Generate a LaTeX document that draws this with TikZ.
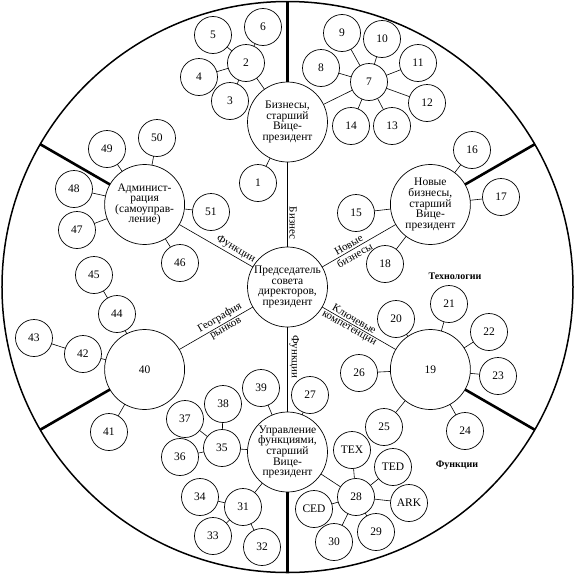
\documentclass[tikz,border=0pt]{standalone}
\usepackage{fontspec}
\setmainfont{Liberation Serif}
\usepackage{tikz}

\begin{document}
\begin{tikzpicture}[
x=1pt, y=1pt,
ring/.style={line width=1.5pt},
hub/.style={draw, circle, line width=0.7pt, minimum size=80pt, inner sep=0pt, outer sep=0pt, align=center, font=\fontsize{11.5}{10.6}\selectfont},
leaf/.style={draw, circle, line width=0.7pt, minimum size=37pt, inner sep=0pt, outer sep=0pt, font=\fontsize{11.5}{12}\selectfont},
link/.style={line width=0.6pt},
spoke/.style={line width=2.6pt},
tag/.style={font=\fontsize{11}{9}\selectfont, inner sep=1.8pt},
sector/.style={font=\bfseries\fontsize{10}{12}\selectfont}
]
\useasboundingbox (-287.5,-287) rectangle (287.5,287);
\draw[ring] (0,0) circle (285.5);
\foreach \a in {90,30,-30,-90,-150,150}
  \coordinate (rim\a) at (\a:285.5);
% hubs
\node[hub] (chair) at (0,0) {Председатель\\совета\\директоров,\\президент};
\node[hub] (biz) at (90:165) {Бизнесы,\\старший\\Вице-\\президент};
\node[hub] (newbiz) at (30:165) {Новые\\бизнесы,\\старший\\Вице-\\президент};
\node[hub] (core) at (-30:165) {19};
\node[hub] (func) at (-90:165) {Управление\\функциями,\\старший\\Вице-\\президент};
\node[hub] (geo) at (-150:165) {40};
\node[hub] (admin) at (150:165) {Админист-\\рация\\(самоуправ-\\ление)};
% sector borders
\draw[spoke] (biz.90) -- (rim90);
\draw[spoke] (newbiz.30) -- (rim30);
\draw[spoke] (core.-30) -- (rim-30);
\draw[spoke] (func.-90) -- (rim-90);
\draw[spoke] (geo.-150) -- (rim-150);
\draw[spoke] (admin.150) -- (rim150);
% business
\node[leaf] (n1) at (-29.5,104) {1};
\node[leaf] (n2) at (-41.5,224) {2};
\node[leaf] (n3) at (-57.5,186) {3};
\node[leaf] (n4) at (-88.5,210) {4};
\node[leaf] (n5) at (-74.5,252) {5};
\node[leaf] (n6) at (-24.5,260) {6};
\node[leaf] (n7) at (81.5,205) {7};
\node[leaf] (n8) at (33.5,219) {8};
\node[leaf] (n9) at (54.5,254) {9};
\node[leaf] (n10) at (94.5,248) {10};
\node[leaf] (n11) at (130.5,224) {11};
\node[leaf] (n12) at (139.5,184) {12};
\node[leaf] (n13) at (104.5,161) {13};
\node[leaf] (n14) at (63.5,161) {14};
% new business
\node[leaf] (n15) at (68.5,74) {15};
\node[leaf] (n16) at (184.5,137) {16};
\node[leaf] (n17) at (213.5,90) {17};
\node[leaf] (n18) at (97.5,23) {18};
% core competences
\node[leaf] (n20) at (108.5,-32) {20};
\node[leaf] (n21) at (161.5,-17) {21};
\node[leaf] (n22) at (201.5,-45) {22};
\node[leaf] (n23) at (210.5,-89) {23};
\node[leaf] (n24) at (177.5,-144) {24};
\node[leaf] (n25) at (96.5,-140) {25};
\node[leaf] (n26) at (71.5,-86) {26};
% functions
\node[leaf] (n27) at (22.5,-108) {27};
\node[leaf] (n28) at (68.5,-210) {28};
\node[leaf] (n29) at (88.5,-245) {29};
\node[leaf] (n30) at (46.5,-255) {30};
\node[leaf] (tex) at (64.5,-163) {TEX};
\node[leaf] (ted) at (105.5,-180) {TED};
\node[leaf] (ark) at (121.5,-216) {ARK};
\node[leaf] (ced) at (26.5,-222) {CED};
\node[leaf] (n31) at (-44.5,-220) {31};
\node[leaf] (n32) at (-25.5,-260) {32};
\node[leaf] (n33) at (-74.5,-249) {33};
\node[leaf] (n34) at (-87.5,-210) {34};
\node[leaf] (n35) at (-65.5,-161) {35};
\node[leaf] (n36) at (-107.5,-170) {36};
\node[leaf] (n37) at (-102.5,-132) {37};
\node[leaf] (n38) at (-64.5,-117) {38};
\node[leaf] (n39) at (-26.5,-101) {39};
% geography
\node[leaf] (n41) at (-178.5,-145) {41};
\node[leaf] (n42) at (-204.5,-67) {42};
\node[leaf] (n43) at (-253.5,-51) {43};
\node[leaf] (n44) at (-170.5,-27) {44};
\node[leaf] (n45) at (-193.5,12) {45};
% administration
\node[leaf] (n46) at (-107.5,24) {46};
\node[leaf] (n47) at (-210.5,57) {47};
\node[leaf] (n48) at (-213.5,98) {48};
\node[leaf] (n49) at (-180.5,138) {49};
\node[leaf] (n50) at (-130.5,149) {50};
\node[leaf] (n51) at (-76.5,75) {51};
% links from the chair
\draw[link] (biz) -- (chair) node[tag, pos=0.72, rotate=-90, anchor=south] {Бизнес};
\draw[link] (chair) -- (func) node[tag, pos=0.35, rotate=-90, anchor=south] {Функции};
\draw[link] (admin) -- (chair) node[tag, pos=0.72, sloped, above] {Функции};
\draw[link] (chair) -- (newbiz) node[tag, pos=0.4, sloped, above] {Новые} node[tag, pos=0.4, sloped, below] {бизнесы};
\draw[link] (chair) -- (core) node[tag, pos=0.4, sloped, above] {Ключевые} node[tag, pos=0.4, sloped, below] {компетенции};
\draw[link] (geo) -- (chair) node[tag, pos=0.6, sloped, above] {География} node[tag, pos=0.6, sloped, below] {рынков};
% links to the leaves
\draw[link] (biz) -- (n1) (biz) -- (n2) (biz) -- (n7);
\draw[link] (n2) -- (n3) (n2) -- (n4) (n2) -- (n5) (n2) -- (n6);
\draw[link] (n7) -- (n8) (n7) -- (n9) (n7) -- (n10) (n7) -- (n11) (n7) -- (n12) (n7) -- (n13) (n7) -- (n14);
\draw[link] (newbiz) -- (n15) (newbiz) -- (n16) (newbiz) -- (n17) (newbiz) -- (n18);
\draw[link] (core) -- (n20) (core) -- (n21) (core) -- (n22) (core) -- (n23) (core) -- (n24) (core) -- (n25) (core) -- (n26);
\draw[link] (func) -- (n27) (func) -- (n28) (func) -- (n31) (func) -- (n35) (func) -- (n39);
\draw[link] (n28) -- (tex) (n28) -- (ted) (n28) -- (ark) (n28) -- (n29) (n28) -- (n30) (n28) -- (ced);
\draw[link] (n31) -- (n32) (n31) -- (n33) (n31) -- (n34);
\draw[link] (n35) -- (n36) (n35) -- (n37) (n35) -- (n38);
\draw[link] (geo) -- (n41) (geo) -- (n42) (geo) -- (n44) (n42) -- (n43) (n44) -- (n45);
\draw[link] (admin) -- (n46) (admin) -- (n47) (admin) -- (n48) (admin) -- (n49) (admin) -- (n50) (admin) -- (n51);
% sector names
\node[sector] (tech) at (167.5,11) {Технологии};
\node[sector] (funcs) at (169.5,-178) {Функции};
\end{tikzpicture}
\end{document}
